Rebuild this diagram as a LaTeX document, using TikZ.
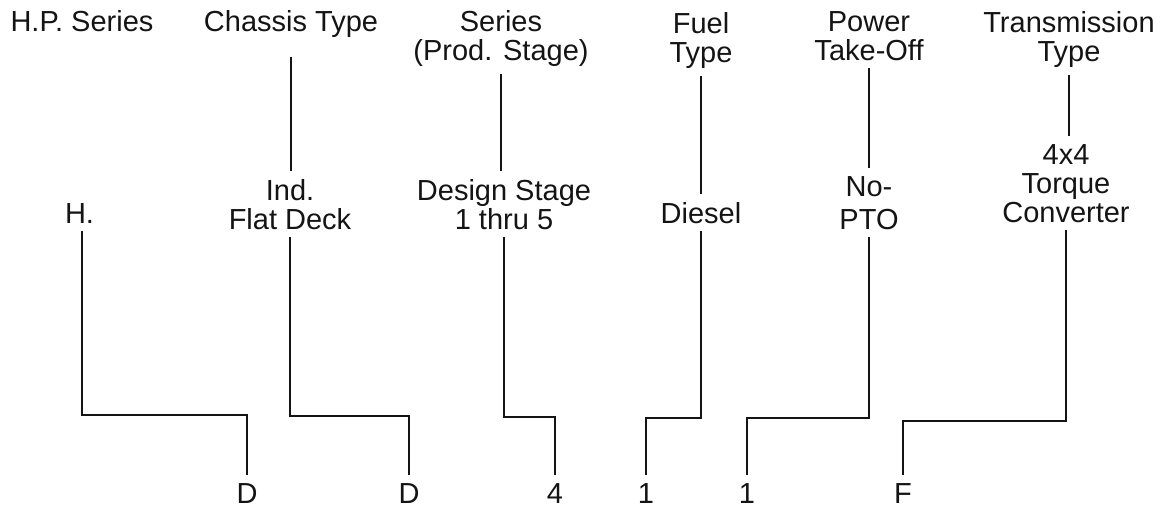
\documentclass[tikz,border=0pt]{standalone}
\usepackage{fontspec}
\setmainfont{Liberation Sans}
\definecolor{myink}{RGB}{20,20,20}

\begin{document}
\begin{tikzpicture}[x=0.5pt,y=-0.5pt,
    lbl/.style={align=center,anchor=base,inner sep=0pt,outer sep=4pt,
      font=\fontsize{14.5}{14.5}\selectfont,text=myink},
    wire/.style={myink,line width=1.4pt}]
  \useasboundingbox (0,0) rectangle (1168,509);
  \node[lbl] (hHP) at (  82,31) {H.P. Series};
  \node[lbl] (hCT) at ( 291,31) {Chassis Type};
  \node[lbl] (hSE) at ( 501,60) {Series\\(Prod. Stage)};
  \node[lbl] (hFT) at ( 701,62) {Fuel\\Type};
  \node[lbl] (hPT) at ( 869,60) {Power\\Take-Off};
  \node[lbl] (hTT) at (1069,61) {Transmission\\Type};

  \node[lbl,anchor=base west] (mHP) at (57,223) {H.};
  \node[lbl] (mCT) at ( 290,229) {Ind.\\Flat Deck};
  \node[lbl] (mSE) at ( 504,229) {Design Stage\\1 thru 5};
  \node[lbl] (mFT) at ( 701,223) {Diesel};
  \node[lbl] (mPT) at ( 869,229) {No-\\[2pt]PTO};
  \node[lbl] (mTT) at (1066,222) {4x4\\Torque\\Converter};

  \node[lbl] (cHP) at (247,503) {D};
  \node[lbl] (cCT) at (409,503) {D};
  \node[lbl] (cSE) at (555,503) {4};
  \node[lbl] (cFT) at (646,503) {1};
  \node[lbl] (cPT) at (747,503) {1};
  \node[lbl] (cTT) at (903,503) {F};

  \coordinate (bHP) at (247,415);
  \coordinate (bCT) at (409,416);
  \coordinate (bSE) at (555,417);
  \coordinate (bFT) at (646,418);
  \coordinate (bPT) at (747,418);
  \coordinate (bTT) at (903,421);

  \draw[wire,shorten <=6pt] (hCT.south) -- (hCT.south |- mCT.north);
  \draw[wire] (hSE.south) -- (hSE.south |- mSE.north);
  \draw[wire] (hFT.south) -- (hFT.south |- mFT.north);
  \draw[wire] (hPT.south) -- (hPT.south |- mPT.north);
  \draw[wire] (hTT.south) -- (hTT.south |- mTT.north);

  \draw[wire] (mHP.south -| hHP.south) |- (bHP) -- (cHP.north);
  \draw[wire] (mCT.south) |- (bCT) -- (cCT.north);
  \draw[wire] (mSE.south) |- (bSE) -- (cSE.north);
  \draw[wire] (mFT.south) |- (bFT) -- (cFT.north);
  \draw[wire] (mPT.south) |- (bPT) -- (cPT.north);
  \draw[wire] (mTT.south) |- (bTT) -- (cTT.north);
\end{tikzpicture}
\end{document}
